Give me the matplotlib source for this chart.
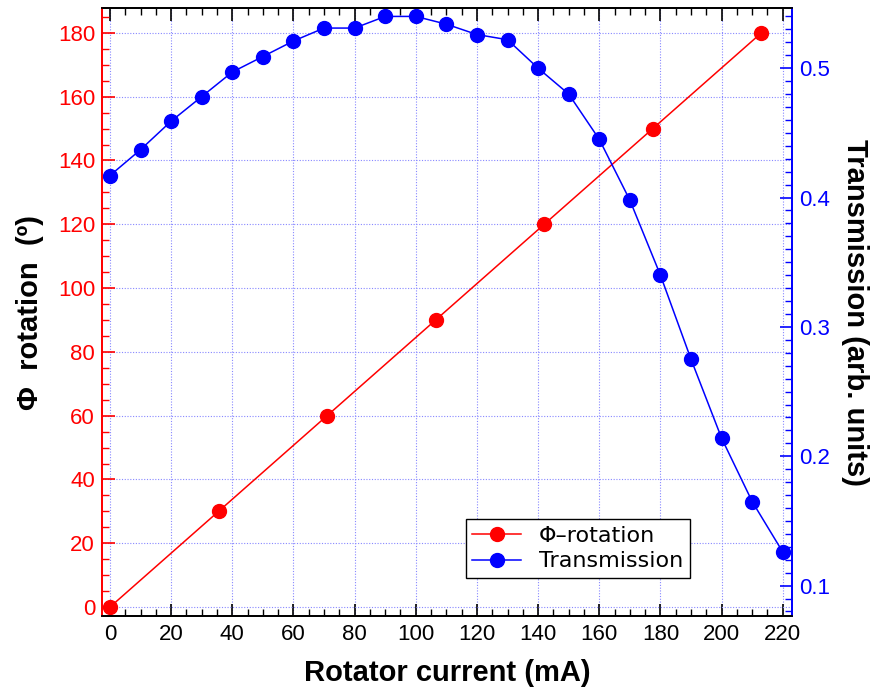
import matplotlib
matplotlib.use("Agg")
import matplotlib.pyplot as plt
from matplotlib.ticker import MultipleLocator

plt.rcParams['font.family'] = ['Liberation Sans', 'DejaVu Sans']

# rotation data
rot_current = [0, 35.5, 71, 106.5, 142, 177.5, 213]
rot_angle = [0, 30, 60, 90, 120, 150, 180]

# transmission data
tr_current = [0, 10, 20, 30, 40, 50, 60, 70, 80, 90, 100, 110,
              120, 130, 140, 150, 160, 170, 180, 190, 200, 210, 220]
tr_value = [0.417, 0.437, 0.459, 0.478, 0.497, 0.509, 0.521, 0.531, 0.531,
            0.540, 0.540, 0.534, 0.526, 0.522, 0.500, 0.480, 0.445, 0.398,
            0.340, 0.275, 0.214, 0.165, 0.126]

red = '#ff0000'
blue = '#0000ff'

fig = plt.figure(figsize=(8.77, 6.91), dpi=100)
ax = fig.add_axes([0.1163, 0.1085, 0.7867, 0.8799])
ax2 = ax.twinx()

l1, = ax.plot(rot_current, rot_angle, '-o', color=red, lw=1.1, ms=10,
              label='\u03a6\u2013rotation')
l2, = ax2.plot(tr_current, tr_value, '-o', color=blue, lw=1.1, ms=10,
               label='Transmission')

ax.set_xlim(-2.6, 223)
ax.set_ylim(-2.8, 187.8)
ax2.set_ylim(0.0765, 0.5465)

ax.xaxis.set_major_locator(MultipleLocator(20))
ax.xaxis.set_minor_locator(MultipleLocator(5))
ax.yaxis.set_major_locator(MultipleLocator(20))
ax.yaxis.set_minor_locator(MultipleLocator(5))
ax2.yaxis.set_major_locator(MultipleLocator(0.1))
ax2.yaxis.set_minor_locator(MultipleLocator(0.01))

ax.grid(True, which='major', color='#8888ff', ls=(0, (1, 1.5)), lw=0.8)

ax.tick_params(axis='x', which='both', direction='in', top=True, colors='black',
               labelsize=16, pad=6)
ax.tick_params(axis='x', which='major', length=9, width=1.2)
ax.tick_params(axis='x', which='minor', length=5, width=1)
ax.tick_params(axis='y', which='both', direction='in', colors=red, labelsize=16,
               pad=5)
ax.tick_params(axis='y', which='major', length=9, width=1.2)
ax.tick_params(axis='y', which='minor', length=5, width=1)
ax2.tick_params(axis='y', which='both', direction='in', colors=blue, labelsize=16,
                pad=5)
ax2.tick_params(axis='y', which='major', length=9, width=1.2)
ax2.tick_params(axis='y', which='minor', length=5, width=1)

for a in (ax, ax2):
    a.spines['left'].set_color(red)
    a.spines['right'].set_color(blue)
    a.spines['top'].set_color('black')
    a.spines['bottom'].set_color('black')
    for s in a.spines.values():
        s.set_linewidth(1.3)

ax.set_xlabel('Rotator current (mA)', fontsize=21, fontweight='bold', labelpad=10)
ax.set_ylabel('\u03a6  rotation  (\u00ba)', fontsize=21, fontweight='bold', labelpad=10)
ax2.set_ylabel('Transmission (arb. units)', fontsize=21, fontweight='bold',
               rotation=270, labelpad=28)

leg = ax2.legend(handles=[l1, l2], loc='lower right', bbox_to_anchor=(0.852, 0.0625),
                 borderaxespad=0, prop={'family': 'DejaVu Sans', 'size': 16},
                 fancybox=False, framealpha=1, edgecolor='black',
                 handlelength=2.2, borderpad=0.3, labelspacing=0.25,
                 handletextpad=0.8)
leg.get_frame().set_linewidth(1.0)

fig.savefig('out.png', dpi=100)
